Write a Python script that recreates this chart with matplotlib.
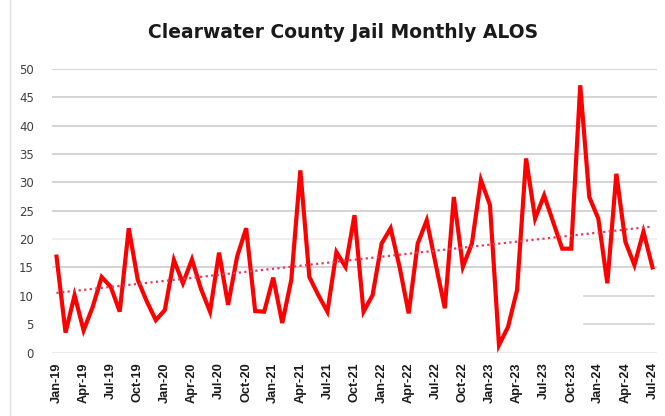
import numpy as np
import matplotlib
matplotlib.use("Agg")
import matplotlib.pyplot as plt
from matplotlib.lines import Line2D

title = "Clearwater County Jail Monthly ALOS"
tick_labels = ["Jan-19", "Apr-19", "Jul-19", "Oct-19", "Jan-20", "Apr-20", "Jul-20", "Oct-20",
               "Jan-21", "Apr-21", "Jul-21", "Oct-21", "Jan-22", "Apr-22", "Jul-22", "Oct-22",
               "Jan-23", "Apr-23", "Jul-23", "Oct-23", "Jan-24", "Apr-24", "Jul-24"]
alos = [16.9, 3.5, 10.1, 3.9, 8.0, 13.3, 11.6, 7.2, 21.9, 12.8, 9.0, 5.7,
        7.5, 16.3, 12.2, 16.4, 11.2, 7.2, 17.6, 8.4, 16.9, 21.9, 7.3, 7.2,
        13.2, 5.2, 12.8, 32.1, 13.3, 10.1, 7.2, 17.7, 15.1, 24.2, 7.2, 10.1,
        19.2, 21.9, 15.0, 6.9, 19.2, 23.3, 15.5, 7.8, 27.4, 15.1, 19.2, 30.4,
        26.0, 1.3, 4.5, 11.0, 34.2, 23.6, 27.7, 23.0, 18.3, 18.3, 47.1, 27.4,
        23.6, 12.2, 31.5, 19.5, 15.4, 21.3, 15.0]
trend_ends = [10.5, 22.2]   # linear trendline value at first and last month
y_ticks = [0, 5, 10, 15, 20, 25, 30, 35, 40, 45, 50]

x = np.arange(len(alos))
fig = plt.figure(figsize=(6.65, 4.16), dpi=100)
ax = fig.add_axes([52/665, 1 - 352.5/416, (657 - 52)/665, (352.5 - 68.8)/416])

# gridlines (partially faded as in the reference)
for v in [15, 25, 30, 35, 40, 45, 50]:
    ax.axhline(v, color="#d4d4d4", lw=1.4, zorder=0)
ax.axhline(20, color="#ececec", lw=1.2, zorder=0)
for v in [5, 10]:
    ax.axhline(v, color="#d4d4d4", lw=1.2, xmin=0.88, xmax=0.995, zorder=0)
ax.axhline(0, color="#e6e6e6", lw=1.2, zorder=0)

ax.plot(x, alos, color="#ff0000", lw=3.0, solid_joinstyle="miter", zorder=3)
trend = np.linspace(trend_ends[0], trend_ends[1], len(alos))
ax.plot(x, trend, color="#e8395a", lw=1.6, ls=(0, (1, 1.5)), zorder=4)

ax.set_xlim(-0.5, len(alos) - 0.5)
ax.set_ylim(0, 50)
ax.set_yticks(y_ticks)
ax.set_yticklabels([str(v) for v in y_ticks], fontsize=8.5, color="#404040", family="DejaVu Sans")
ax.set_xticks(np.arange(0, len(alos), 3))
ax.set_xticklabels(tick_labels, rotation=90, fontsize=9.2, fontweight="bold",
                   family="Liberation Sans", color="#1a1a1a")
ax.tick_params(axis="both", length=0)
ax.tick_params(axis="y", pad=13)
ax.tick_params(axis="x", pad=7)
for s in ax.spines.values():
    s.set_visible(False)

fig.text(343.5/665, 1 - 33/416, title, ha="center", va="center", fontsize=13.5,
         fontweight="bold", family="DejaVu Sans", color="#1a1a1a")
fig.add_artist(Line2D([10/665, 10/665], [0, 1], color="#e0e0e0", lw=1, transform=fig.transFigure))

fig.savefig("out.png", dpi=100)
